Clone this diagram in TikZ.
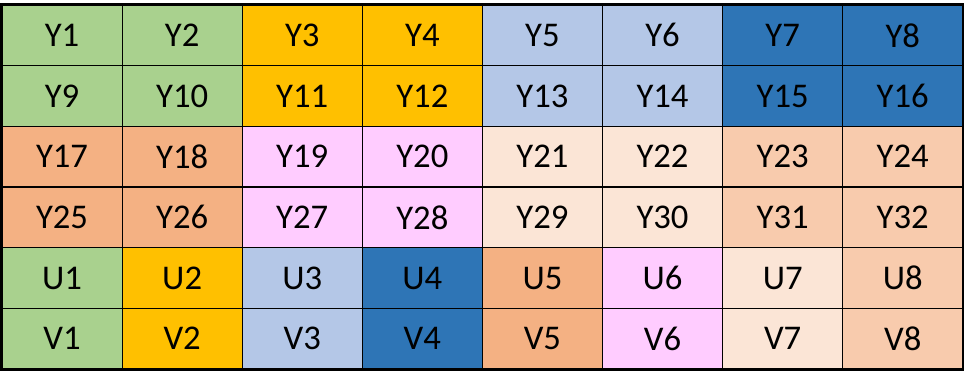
\documentclass[tikz,border=0pt]{standalone}
\usepackage{fontspec}
\setmainfont{Carlito}
\usetikzlibrary{positioning}
\definecolor{grn}{HTML}{A9D18E}
\definecolor{gold}{HTML}{FFC000}
\definecolor{lblue}{HTML}{B4C7E7}
\definecolor{dblue}{HTML}{2E75B6}
\definecolor{salmon}{HTML}{F4B183}
\definecolor{pinkc}{HTML}{FFCCFF}
\definecolor{cream}{HTML}{FBE5D6}
\definecolor{peach}{HTML}{F8CBAD}

\begin{document}
\begin{tikzpicture}[
  x=0.75pt,y=-0.75pt,
  cell/.style={draw=black, line width=0.9pt, inner sep=0pt, minimum width=90.075pt, minimum height=45.5pt, font=\fontsize{26}{30}\selectfont},
]
\useasboundingbox (0,0) rectangle (967,385);
% rows of Y blocks
\foreach \lab/\col [count=\c] in {Y1/grn,Y2/grn,Y3/gold,Y4/gold,Y5/lblue,Y6/lblue,Y7/dblue,Y8/dblue}
  \node[cell,fill=\col] (r1c\c) at ({2+(\c-0.5)*120.1},{5+0.5*60.67}) {\lab};
\foreach \lab/\col [count=\c] in {Y9/grn,Y10/grn,Y11/gold,Y12/gold,Y13/lblue,Y14/lblue,Y15/dblue,Y16/dblue}
  \node[cell,fill=\col] (r2c\c) at ({2+(\c-0.5)*120.1},{5+1.5*60.67}) {\lab};
\foreach \lab/\col [count=\c] in {Y17/salmon,Y18/salmon,Y19/pinkc,Y20/pinkc,Y21/cream,Y22/cream,Y23/peach,Y24/peach}
  \node[cell,fill=\col] (r3c\c) at ({2+(\c-0.5)*120.1},{5+2.5*60.67}) {\lab};
\foreach \lab/\col [count=\c] in {Y25/salmon,Y26/salmon,Y27/pinkc,Y28/pinkc,Y29/cream,Y30/cream,Y31/peach,Y32/peach}
  \node[cell,fill=\col] (r4c\c) at ({2+(\c-0.5)*120.1},{5+3.5*60.67}) {\lab};
% U and V rows
\foreach \lab/\col [count=\c] in {U1/grn,U2/gold,U3/lblue,U4/dblue,U5/salmon,U6/pinkc,U7/cream,U8/peach}
  \node[cell,fill=\col] (r5c\c) at ({2+(\c-0.5)*120.1},{5+4.5*60.67}) {\lab};
\foreach \lab/\col [count=\c] in {V1/grn,V2/gold,V3/lblue,V4/dblue,V5/salmon,V6/pinkc,V7/cream,V8/peach}
  \node[cell,fill=\col] (r6c\c) at ({2+(\c-0.5)*120.1},{5+5.5*60.67}) {\lab};
% outer frame
\draw[line width=1.5pt] (r1c1.north west) rectangle (r6c8.south east);
\end{tikzpicture}
\end{document}
